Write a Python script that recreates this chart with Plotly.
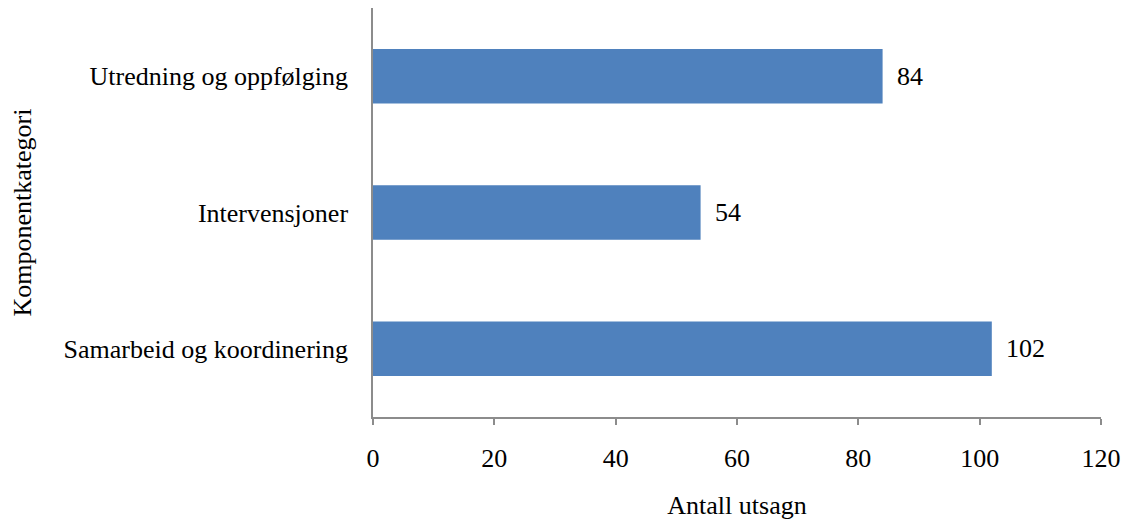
import plotly.graph_objects as go

categories = ["Samarbeid og koordinering", "Intervensjoner", "Utredning og oppfølging"]
counts = [102, 54, 84]
x_ticks = [0, 20, 40, 60, 80, 100, 120]

FONT = "Liberation Serif, Times New Roman, serif"
AXIS_GREY = "#8c8c8c"
FS = 26
L_MARGIN, R_MARGIN = 373, 25
PLOT_W = 1126 - L_MARGIN - R_MARGIN

fig = go.Figure(
    go.Bar(
        y=categories,
        x=counts,
        orientation="h",
        marker=dict(color="#4F81BD", line=dict(width=0)),
        width=0.4,
        hoverinfo="skip",
    )
)

for cat, val in zip(categories, counts):
    fig.add_annotation(
        x=val, y=cat, text=str(val), showarrow=False,
        xanchor="left", xshift=12,
        font=dict(family=FONT, size=FS, color="black"),
    )

# vertical axis title placed near the left edge of the page
fig.add_annotation(
    xref="paper", yref="paper",
    x=(22 - L_MARGIN) / PLOT_W, y=0.5,
    text="Komponentkategori", textangle=-90, showarrow=False,
    xanchor="center", yanchor="middle",
    font=dict(family=FONT, size=FS, color="black"),
)

fig.update_layout(
    width=1126, height=522,
    margin=dict(l=L_MARGIN, r=R_MARGIN, t=8, b=105),
    paper_bgcolor="white", plot_bgcolor="white",
    font=dict(family=FONT, size=FS, color="black"),
    showlegend=False,
    xaxis=dict(
        range=[0, 120], tickvals=x_ticks, automargin=False,
        showgrid=False, zeroline=False,
        showline=True, linecolor=AXIS_GREY, linewidth=1.5,
        ticks="outside", ticklen=6, tickcolor=AXIS_GREY, tickwidth=1.5,
        ticklabelstandoff=11,
        tickfont=dict(family=FONT, size=FS),
        title=dict(text="Antall utsagn", standoff=24,
                   font=dict(family=FONT, size=FS)),
    ),
    yaxis=dict(
        range=[-0.5, 2.5], automargin=False,
        showgrid=False, zeroline=False,
        showline=True, linecolor=AXIS_GREY, linewidth=1.5,
        ticks="", ticklabelstandoff=18,
        tickfont=dict(family=FONT, size=FS),
    ),
)

fig.write_html("out.html")
